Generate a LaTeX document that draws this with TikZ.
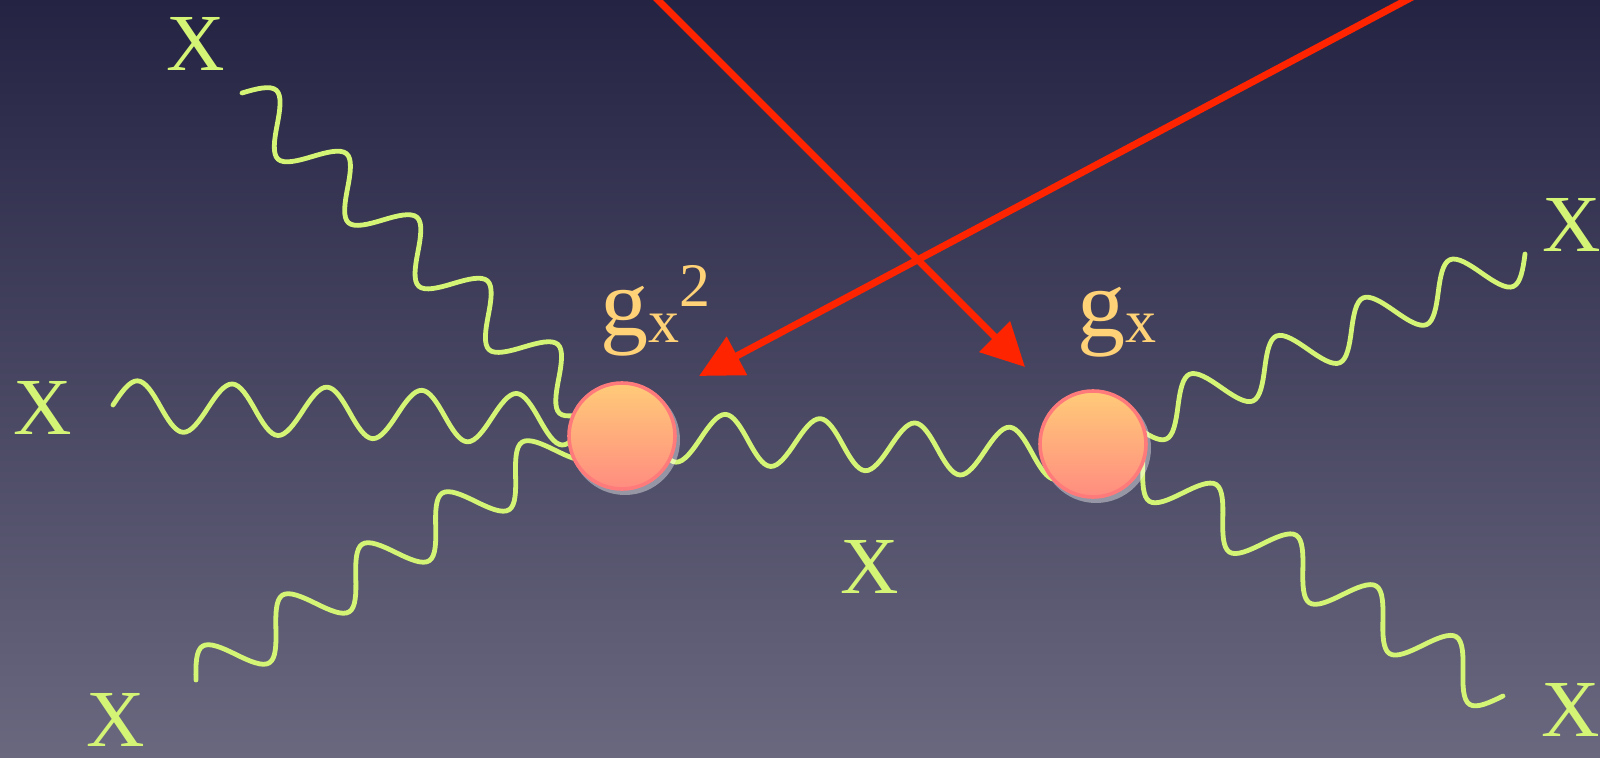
\documentclass[tikz,border=0pt]{standalone}
\usepackage{fontspec}
\setmainfont{Liberation Serif}
\usetikzlibrary{arrows.meta,calc,decorations}
\pgfdeclaredecoration{fwave}{up}{
  \state{up}[width=+.5\pgfdecorationsegmentlength, next state=down]{
    \pgfpathcurveto
      {\pgfqpoint{.0833333\pgfdecorationsegmentlength}{.5236\pgfdecorationsegmentamplitude}}
      {\pgfqpoint{.1666667\pgfdecorationsegmentlength}{\pgfdecorationsegmentamplitude}}
      {\pgfqpoint{.25\pgfdecorationsegmentlength}{\pgfdecorationsegmentamplitude}}
    \pgfpathcurveto
      {\pgfqpoint{.3333333\pgfdecorationsegmentlength}{\pgfdecorationsegmentamplitude}}
      {\pgfqpoint{.4166667\pgfdecorationsegmentlength}{.5236\pgfdecorationsegmentamplitude}}
      {\pgfqpoint{.5\pgfdecorationsegmentlength}{0pt}}
  }
  \state{down}[width=+.5\pgfdecorationsegmentlength, next state=up]{
    \pgfpathcurveto
      {\pgfqpoint{.0833333\pgfdecorationsegmentlength}{-.5236\pgfdecorationsegmentamplitude}}
      {\pgfqpoint{.1666667\pgfdecorationsegmentlength}{-\pgfdecorationsegmentamplitude}}
      {\pgfqpoint{.25\pgfdecorationsegmentlength}{-\pgfdecorationsegmentamplitude}}
    \pgfpathcurveto
      {\pgfqpoint{.3333333\pgfdecorationsegmentlength}{-\pgfdecorationsegmentamplitude}}
      {\pgfqpoint{.4166667\pgfdecorationsegmentlength}{-.5236\pgfdecorationsegmentamplitude}}
      {\pgfqpoint{.5\pgfdecorationsegmentlength}{0pt}}
  }
  \state{final}{\pgfpathmoveto{\pgfpointdecoratedpathlast}}
}
\definecolor{bgtop}{HTML}{242343}
\definecolor{bgmid}{HTML}{47456A}
\definecolor{bgbot}{HTML}{6A687F}
\definecolor{wavecol}{HTML}{D4F476}
\definecolor{glabcol}{HTML}{FFD278}
\definecolor{arrowred}{HTML}{FF2400}
\definecolor{vtop}{HTML}{FFCB78}
\definecolor{vbot}{HTML}{FF8C80}
\definecolor{vborder}{HTML}{FF7B7B}
\pgfdeclarelayer{bglayer}
\pgfdeclarelayer{wavelayer}
\pgfsetlayers{bglayer,wavelayer,main}
\newcommand{\subsz}{\fontsize{31pt}{31pt}\selectfont}
\tikzset{
  xwave/.style={draw=wavecol, line width=2.4pt, line cap=round, line join=round,
    decorate, decoration={fwave, segment length=47.4pt, amplitude=12.5pt}},
  vtx/.style={circle, minimum size=53pt, inner sep=0pt, draw=vborder, line width=1.8pt,
    top color=vtop, bottom color=vbot},
  glow/.style={circle, minimum size=55pt, inner sep=0pt, fill=white, opacity=0.4},
  xlab/.style={inner sep=0pt, text=wavecol, font=\fontsize{40.5pt}{40.5pt}\selectfont},
  glab/.style={inner sep=0pt, text=glabcol, font=\fontsize{48pt}{48pt}\selectfont, anchor=base west},
  redarrow/.style={draw=arrowred, line width=3.5pt, -{Triangle[length=21.5pt,width=21pt]}}
}
\begin{document}
\begin{tikzpicture}[x=0.5pt, y=-0.5pt]
\useasboundingbox (0,0) rectangle (1600,758);
\begin{pgfonlayer}{bglayer}
  \fill[top color=bgtop, middle color=bgmid, bottom color=bgbot] (0,0) rectangle (1600,758);
\end{pgfonlayer}

% vertices
\node[glow] (h1) at (625,440) {};
\node[glow] (h2) at (1096,448) {};
\node[vtx] (v1) at (622,436) {};
\node[vtx] (v2) at (1093,444) {};

% free ends
\coordinate (xL) at (113,405);
\coordinate (xU) at (242,93);
\coordinate (xD) at (196,680);
\coordinate (xRU) at (1525,254);
\coordinate (xRD) at (1503,696);
\coordinate (mS) at ($(v1)+(-16,-2)$);

% wave targets inside the vertices, pushed past the target
\coordinate (tL) at ($(v1)+(0,-14)$);
\coordinate (tD) at ($(v1)+(0,-28)$);
\coordinate (tM) at ($(v2)+(0,12)$);
\coordinate (tRD) at ($(v2)+(0,-8)$);
\coordinate (eL) at ($(tL)!-27.5pt!(xL)$);
\coordinate (eU) at ($(v1)!-27.5pt!(xU)$);
\coordinate (eD) at ($(tD)!-27.5pt!(xD)$);
\coordinate (eM) at ($(tM)!-27.5pt!(mS)$);
\coordinate (eRU) at ($(v2)!-27.5pt!(xRU)$);
\coordinate (eRD) at ($(tRD)!-27.5pt!(xRD)$);

\begin{pgfonlayer}{wavelayer}
  \draw[xwave] (xL) -- (eL);
  \draw[xwave] (xU) -- (eU);
  \draw[xwave] (xD) -- (eD);
  \draw[xwave] (mS) -- (eM);
  \draw[xwave] (xRU) -- (eRU);
  \draw[xwave] (xRD) -- (eRD);
\end{pgfonlayer}

% labels
\node[glab] (g1) at (600,336) {g\raisebox{-3.5pt}{\subsz x}\raisebox{14.5pt}{\subsz 2}};
\node[glab] (g2) at (1077,337) {g\raisebox{-3pt}{\subsz x}};

\node[xlab] (X1) at (196,44) {X};
\node[xlab] (X2) at (43,408) {X};
\node[xlab] (X3) at (116,720) {X};
\node[xlab] (X4) at (870,567) {X};
\node[xlab] (X5) at (1572,225) {X};
\node[xlab] (X6) at (1571,710) {X};

% red arrows
\coordinate (a1s) at (653,-5);
\coordinate (a1t) at (1025,367);
\coordinate (a2s) at (1416,-5);
\coordinate (a2t) at (699,376);
\draw[redarrow] (a1s) -- (a1t);
\draw[redarrow] (a2s) -- (a2t);
\end{tikzpicture}
\end{document}
